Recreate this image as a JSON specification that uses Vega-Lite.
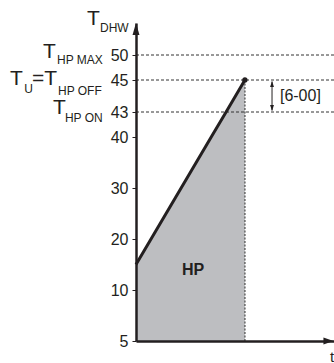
{
  "$schema": "https://vega.github.io/schema/vega-lite/v6.json",
  "width": 198,
  "height": 318,
  "autosize": {"type": "none"},
  "padding": {"left": 136, "top": 23, "right": 0, "bottom": 22},
  "background": "white",
  "config": {"view": {"stroke": null}, "font": "Liberation Sans"},
  "datasets": {
    "curve": [{"t": 0, "T": 15}, {"t": 38, "T": 40}, {"t": 45.5, "T": 43}, {"t": 55, "T": 45}],
    "end": [{"t": 55, "T": 45}],
    "levels": [{"t": 0, "t2": 100, "T": 50}, {"t": 0, "t2": 100, "T": 45}, {"t": 0, "t2": 100, "T": 43}],
    "drop": [{"t": 55, "T": 5, "T2": 45}],
    "span": [{"t": 68.7, "T": 43.1, "T2": 44.9}],
    "headUp": [{"t": 68.7, "T": 44.75}],
    "headDown": [{"t": 68.7, "T": 43.25}],
    "yArrow": [{"t": 0, "T": 55.2}],
    "xArrow": [{"t": 97.2, "T": 5}],
    "bigT": [
      {"t": -24.7, "T": 56.0, "label": "T"},
      {"t": -47, "T": 49.4, "label": "T"},
      {"t": -63.6, "T": 44.69, "label": "T"},
      {"t": -52.5, "T": 44.69, "label": "=T"},
      {"t": -41.9, "T": 42.8, "label": "T"}
    ],
    "sub": [
      {"t": -18.2, "T": 54.6, "label": "DHW"},
      {"t": -39.9, "T": 48.2, "label": "HP MAX"},
      {"t": -56.5, "T": 44.19, "label": "U"},
      {"t": -39.4, "T": 44.09, "label": "HP OFF"},
      {"t": -35.9, "T": 41.8, "label": "HP ON"}
    ],
    "note": [{"t": 72.7, "T": 44, "label": "[6-00]"}],
    "hp": [{"t": 28.8, "T": 13.9, "label": "HP"}],
    "tl": [{"t": 98, "T": 2.94, "label": "t"}]
  },
  "encoding": {
    "x": {"field": "t", "type": "quantitative", "scale": {"domain": [0, 100], "nice": false, "zero": false},
      "axis": {"title": null, "labels": false, "ticks": false, "grid": false, "domainColor": "#231f20", "domainWidth": 2.5, "zindex": 1}},
    "y": {"field": "T", "type": "quantitative",
      "scale": {"domain": [5, 10, 40, 43, 45, 50, 56.4], "range": [318, 267, 114, 89, 57, 32, 0], "nice": false, "zero": false},
      "axis": {"title": null, "values": [5, 10, 20, 30, 40, 43, 45, 50], "grid": false, "tickSize": 4, "tickColor": "#231f20", "tickWidth": 1,
        "domainColor": "#231f20", "domainWidth": 2.5, "labelFont": "Liberation Sans", "labelFontSize": 16, "labelColor": "#231f20", "labelPadding": 4, "zindex": 1}}
  },
  "layer": [
    {
      "data": {"name": "curve"},
      "mark": {"type": "area", "color": "#bdbec1"},
      "encoding": {"y2": {"datum": 5}}
    },
    {
      "data": {"name": "drop"},
      "mark": {"type": "rule", "color": "#666666", "strokeWidth": 1.5, "strokeDash": [2, 1.5]},
      "encoding": {"y2": {"field": "T2"}}
    },
    {
      "data": {"name": "levels"},
      "mark": {"type": "rule", "color": "#333333", "strokeWidth": 1, "strokeDash": [3, 2]},
      "encoding": {"x2": {"field": "t2"}}
    },
    {
      "data": {"name": "curve"},
      "mark": {"type": "line", "color": "#231f20", "strokeWidth": 3},
      "encoding": {}
    },
    {
      "data": {"name": "end"},
      "mark": {"type": "point", "filled": true, "color": "#231f20", "size": 28, "opacity": 1}
    },
    {
      "data": {"name": "span"},
      "mark": {"type": "rule", "color": "#231f20", "strokeWidth": 1},
      "encoding": {"y2": {"field": "T2"}}
    },
    {
      "data": {"name": "headUp"},
      "mark": {"type": "point", "filled": true, "color": "#231f20", "opacity": 1, "size": 36, "shape": "M0,-1L0.65,1L-0.65,1Z"}
    },
    {
      "data": {"name": "headDown"},
      "mark": {"type": "point", "filled": true, "color": "#231f20", "opacity": 1, "size": 36, "shape": "M0,1L0.65,-1L-0.65,-1Z"}
    },
    {
      "data": {"name": "yArrow"},
      "mark": {"type": "point", "filled": true, "color": "#231f20", "opacity": 1, "size": 144, "shape": "M0,-1L0.58,1L-0.58,1Z"}
    },
    {
      "data": {"name": "xArrow"},
      "mark": {"type": "point", "filled": true, "color": "#231f20", "opacity": 1, "size": 100, "shape": "M1,0L-1,0.7L-1,-0.7Z"}
    },
    {
      "data": {"name": "bigT"},
      "mark": {"type": "text", "align": "left", "baseline": "alphabetic", "fontSize": 21, "color": "#231f20", "font": "Liberation Sans"},
      "encoding": {"text": {"field": "label"}}
    },
    {
      "data": {"name": "sub"},
      "mark": {"type": "text", "align": "left", "baseline": "alphabetic", "fontSize": 12, "color": "#231f20", "font": "Liberation Sans"},
      "encoding": {"text": {"field": "label"}}
    },
    {
      "data": {"name": "note"},
      "mark": {"type": "text", "align": "left", "baseline": "middle", "fontSize": 16, "color": "#231f20", "font": "Liberation Sans"},
      "encoding": {"text": {"field": "label"}}
    },
    {
      "data": {"name": "hp"},
      "mark": {"type": "text", "align": "center", "baseline": "middle", "fontSize": 16, "fontWeight": "bold", "color": "#231f20", "font": "Liberation Sans"},
      "encoding": {"text": {"field": "label"}}
    },
    {
      "data": {"name": "tl"},
      "mark": {"type": "text", "align": "left", "baseline": "alphabetic", "fontSize": 15, "color": "#231f20", "font": "Liberation Sans"},
      "encoding": {"text": {"field": "label"}}
    }
  ]
}
